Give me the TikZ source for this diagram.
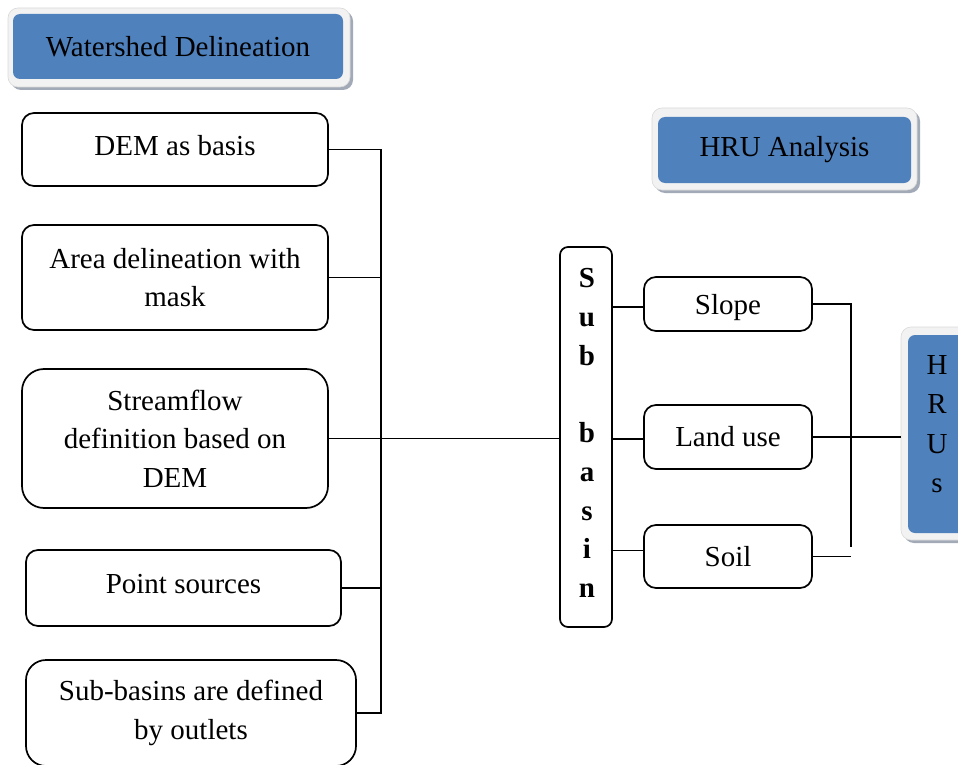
\documentclass[tikz,border=0pt]{standalone}
\usepackage{fontspec}
\setmainfont{Liberation Serif}
\definecolor{hblue}{HTML}{4F81BD}
\definecolor{hframe}{HTML}{F2F2F2}
\definecolor{hshadow}{HTML}{A2AAB8}
\tikzset{
  txt/.style={font=\fontsize{29}{38.5}\selectfont, align=center, inner sep=0pt},
  box/.style={txt, draw=black, line width=1.7pt, rounded corners=12pt, fill=white},
  conn/.style={line width=1.7pt},
  hframeshape/.style={fill=hframe, draw=black!15, line width=0.6pt, rounded corners=10pt, inner sep=0pt},
  hshadowshape/.style={fill=hshadow, rounded corners=10pt, inner sep=0pt},
  hbluebox/.style={txt, fill=hblue, rounded corners=7pt},
}
\begin{document}
\begin{tikzpicture}[x=1pt,y=-1pt]
\useasboundingbox (0,0) rectangle (958,765);
\clip (0,0) rectangle (958,765);

% Header: Watershed Delineation
\node[hshadowshape, minimum width=342pt, minimum height=79pt] (wsshadow) at (182,50.5) {};
\node[hframeshape, minimum width=342pt, minimum height=79pt] (wsframe) at (179,47.5) {};
\node[hbluebox, minimum width=330pt, minimum height=65pt] (ws) at (178,46.5) {Watershed Delineation};

% Header: HRU Analysis
\node[hshadowshape, minimum width=265pt, minimum height=82pt] (hashadow) at (787.5,152) {};
\node[hframeshape, minimum width=265pt, minimum height=82pt] (haframe) at (784.5,149) {};
\node[hbluebox, minimum width=253pt, minimum height=66pt] (ha) at (784.5,150) {HRU Analysis};

% HRUs box
\node[hshadowshape, minimum width=70pt, minimum height=213pt] (hrushadow) at (939,436.5) {};
\node[hframeshape, minimum width=70pt, minimum height=213pt] (hrus) at (936,433.5) {};
\node[hbluebox, minimum width=60pt, minimum height=198pt] (hrusblue) at (938,434) {};
\node[font=\fontsize{29}{39.5}\selectfont, align=center, inner sep=0pt] (hrustxt) at (937,424) {H\\R\\U\\s};

% Left boxes
\node[box, minimum width=306pt, minimum height=73pt] (dem) at (175,149.5) {};
\node[txt] (demtxt) at (175,146) {DEM as basis};
\node[box, minimum width=306pt, minimum height=105pt] (area) at (175,277.5) {Area delineation with\\mask};
\node[box, minimum width=306pt, minimum height=139pt, rounded corners=22pt] (stream) at (175,438.5) {Streamflow\\definition based on\\DEM};
\node[box, minimum width=315pt, minimum height=76pt] (point) at (183.5,588) {};
\node[txt] (pointtxt) at (183.5,584) {Point sources};
\node[box, minimum width=330pt, minimum height=106pt, rounded corners=20pt] (sb) at (191,713) {Sub-basins are defined\\by outlets};

% Sub basin
\node[box, rounded corners=8pt, minimum width=52pt, minimum height=380pt] (sub) at (586,437) {};
\node[font=\fontsize{29}{38.75}\selectfont\bfseries, align=center, inner sep=0pt] (subtxt) at (587,433) {S\\u\\b\\\mbox{}\\b\\a\\s\\i\\n};

% Right small boxes
\node[box, minimum width=168pt, minimum height=54pt] (slope) at (728,304) {};
\node[txt] (slopetxt) at (728,308) {Slope};
\node[box, minimum width=168pt, minimum height=64pt] (land) at (728,437) {Land use};
\node[box, minimum width=168pt, minimum height=63pt] (soil) at (728,556.5) {Soil};

% Buses
\coordinate (bus) at (381,0);
\coordinate (rbus) at (851,0);
\coordinate (rbusend) at (851,547);

\draw[conn] (dem.east) -- (dem.east -| bus) -- (sb.east -| bus) -- (sb.east);
\draw[conn] (area.east) -- (area.east -| bus);
\draw[conn] (point.east) -- (point.east -| bus);
\draw[conn] (stream.east) -- (sub.west |- stream.east);

\draw[conn] ([yshift=-3pt]sub.east |- slope.west) -- ([yshift=-3pt]slope.west);
\draw[conn] ([yshift=-2pt]sub.east |- land.west) -- ([yshift=-2pt]land.west);
\draw[conn] ([yshift=6pt]sub.east |- soil.west) -- ([yshift=6pt]soil.west);

\draw[conn] (slope.east) -- (slope.east -| rbus) -- (rbusend);
\draw[conn] (soil.east) -- (soil.east -| rbus);
\draw[conn] (land.east) -- (hrus.west |- land.east);
\end{tikzpicture}
\end{document}
